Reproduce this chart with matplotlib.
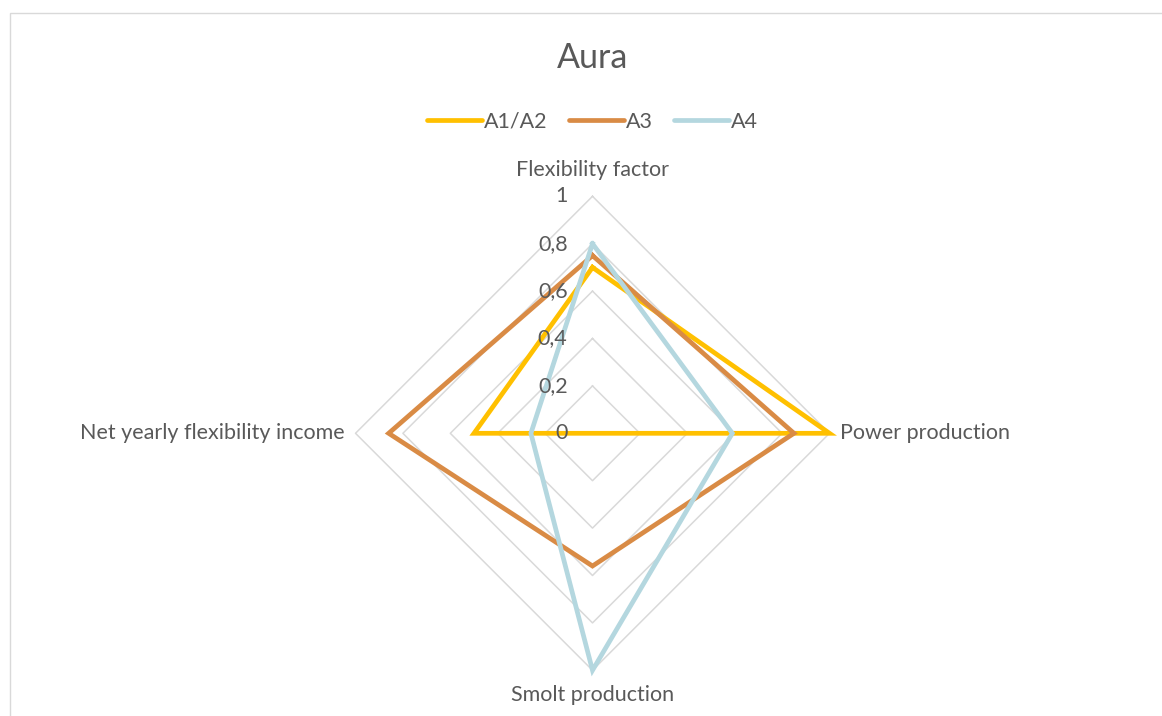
import numpy as np
import matplotlib.pyplot as plt
from matplotlib.lines import Line2D
from matplotlib.patches import Rectangle

# radar data (Excel style, straight grid lines)
categories = ["Flexibility factor", "Power production", "Smolt production",
              "Net yearly flexibility income"]
series_names = ["A1/A2", "A3", "A4"]
a1a2 = [0.7, 1.0, 0.0, 0.5]
a3 = [0.75, 0.85, 0.56, 0.86]
a4 = [0.8, 0.59, 1.0, 0.26]
ticks = [0, 0.2, 0.4, 0.6, 0.8, 1.0]
tick_labels = ["0", "0,2", "0,4", "0,6", "0,8", "1"]

colors = ["#FFC000", "#D98B45", "#B4D7DF"]
grid_col = "#D9D9D9"
txt_col = "#595959"
fs = 15.5

plt.rcParams['font.family'] = ['Lato', 'DejaVu Sans']

fig = plt.figure(figsize=(11.62, 7.16), dpi=100)
# chart border
fig.patches.append(Rectangle((10 / 1162, -0.1), 1.2, (716 - 13) / 716 + 0.1,
                             transform=fig.transFigure, fill=False,
                             edgecolor=grid_col, lw=1))

R = 237.0
cx, cy = 592.5, 433.3
L = 1.2
W, H = 1162, 716
ax = fig.add_axes([(cx - L * R) / W, (H - cy - L * R) / H, 2 * L * R / W, 2 * L * R / H])
ax.set_xlim(-L, L)
ax.set_ylim(-L, L)
ax.axis("off")

n = len(categories)
theta = np.arange(n) * 2 * np.pi / n  # clockwise from top


def to_xy(vals):
    v = np.array(vals + vals[:1], dtype=float)
    t = np.append(theta, theta[0])
    return v * np.sin(t), v * np.cos(t)


# grid rings
for r in ticks[1:]:
    gx, gy = to_xy([r] * n)
    ax.plot(gx, gy, color=grid_col, lw=1.1, zorder=1)

for vals, c in zip([a1a2, a3, a4], colors):
    x, y = to_xy(vals)
    ax.plot(x, y, color=c, lw=3.4, zorder=3, solid_joinstyle="miter",
            clip_on=False)

# tick labels along the vertical axis
for t, lab in zip(ticks, tick_labels):
    ax.text(-0.105, t, lab, ha="right", va="center", fontsize=fs,
            color=txt_col, zorder=4)

# category labels
ax.text(0, 1.11, categories[0], ha="center", va="center", fontsize=fs, color=txt_col)
ax.text(1.045, 0, categories[1], ha="left", va="center", fontsize=fs, color=txt_col)
ax.text(0, -1.105, categories[2], ha="center", va="center", fontsize=fs, color=txt_col)
ax.text(-1.045, 0, categories[3], ha="right", va="center", fontsize=fs, color=txt_col)

fig.text(cx / W, 1 - 58 / H, "Aura", ha="center", va="center", fontsize=24.5,
         color=txt_col)

handles = [Line2D([], [], color=c, lw=3.4, solid_capstyle="round") for c in colors]
leg = fig.legend(handles, series_names, loc="center", bbox_to_anchor=(cx / W, 1 - 122 / H),
                 ncol=3, frameon=False, fontsize=fs, handlelength=2.55,
                 handletextpad=0.1, columnspacing=1.0)
for t in leg.get_texts():
    t.set_color(txt_col)

fig.savefig("out.png", dpi=100)
